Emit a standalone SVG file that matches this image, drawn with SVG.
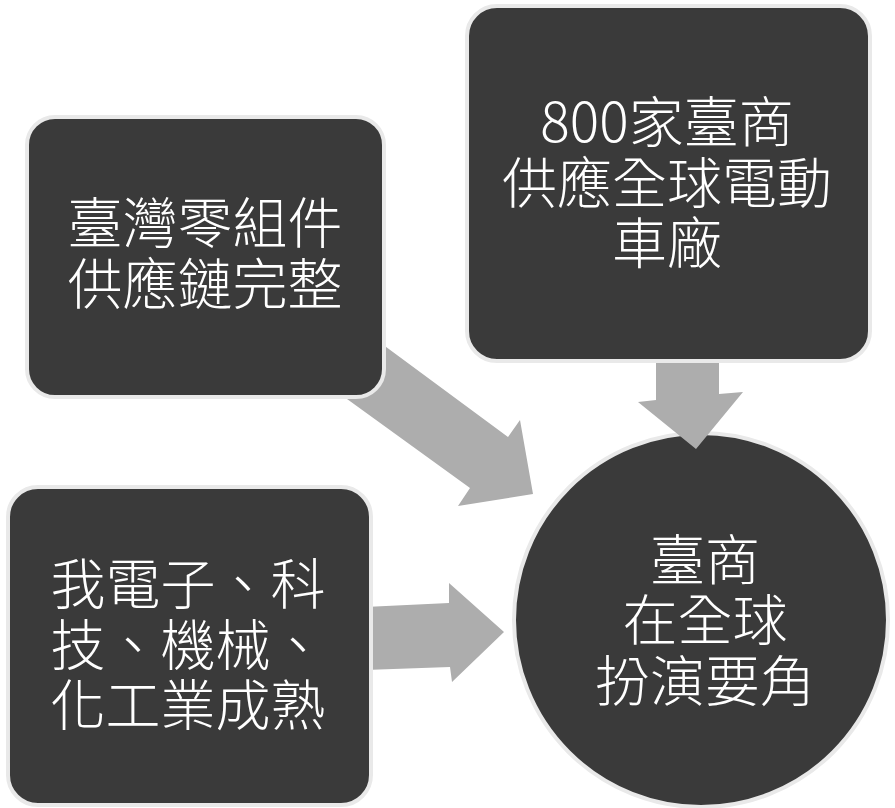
<svg xmlns="http://www.w3.org/2000/svg" width="895" height="808" viewBox="0 0 895 808">
<style>
.node{fill:#3a3a3a;stroke:#e9e9e9;stroke-width:4}
.arrow{fill:#adadad;stroke:none}
.lbl{fill:#ffffff;font-family:"Noto Sans CJK TC","Noto Sans CJK SC",sans-serif;font-weight:300;font-size:55px;text-anchor:middle}
</style>
<rect width="895" height="808" fill="#ffffff"/>
<g id="node-center">
<circle class="node" cx="701" cy="620" r="187"/>
<text class="lbl"><tspan x="705" y="580">臺商</tspan><tspan x="705" y="640">在全球</tspan><tspan x="705" y="701">扮演要角</tspan></text>
</g>
<g id="connectors">
<polygon class="arrow" points="355,324 508,437 520,420 533,494 458,506 470,488 318,378"/>
<polygon class="arrow" points="656,355 656,400 638,402 696,449 743,392 719,394 719,355"/>
<polygon class="arrow" points="365,607 449,603 449,583 504,632 452,682 450,667 365,670"/>
</g>
<g id="node-supply-chain">
<rect class="node" x="27" y="117" width="357" height="280" rx="28"/>
<text class="lbl"><tspan x="205" y="243">臺灣零組件</tspan><tspan x="205" y="304">供應鏈完整</tspan></text>
</g>
<g id="node-800">
<rect class="node" x="467" y="6" width="403" height="355" rx="30"/>
<text class="lbl"><tspan x="667" y="142">800家臺商</tspan><tspan x="667" y="203">供應全球電動</tspan><tspan x="667" y="263">車廠</tspan></text>
</g>
<g id="node-industry">
<rect class="node" x="8" y="487" width="363" height="318" rx="30"/>
<text class="lbl"><tspan x="188" y="604">我電子、科</tspan><tspan x="188" y="665">技、機械、</tspan><tspan x="188" y="725">化工業成熟</tspan></text>
</g>
</svg>
